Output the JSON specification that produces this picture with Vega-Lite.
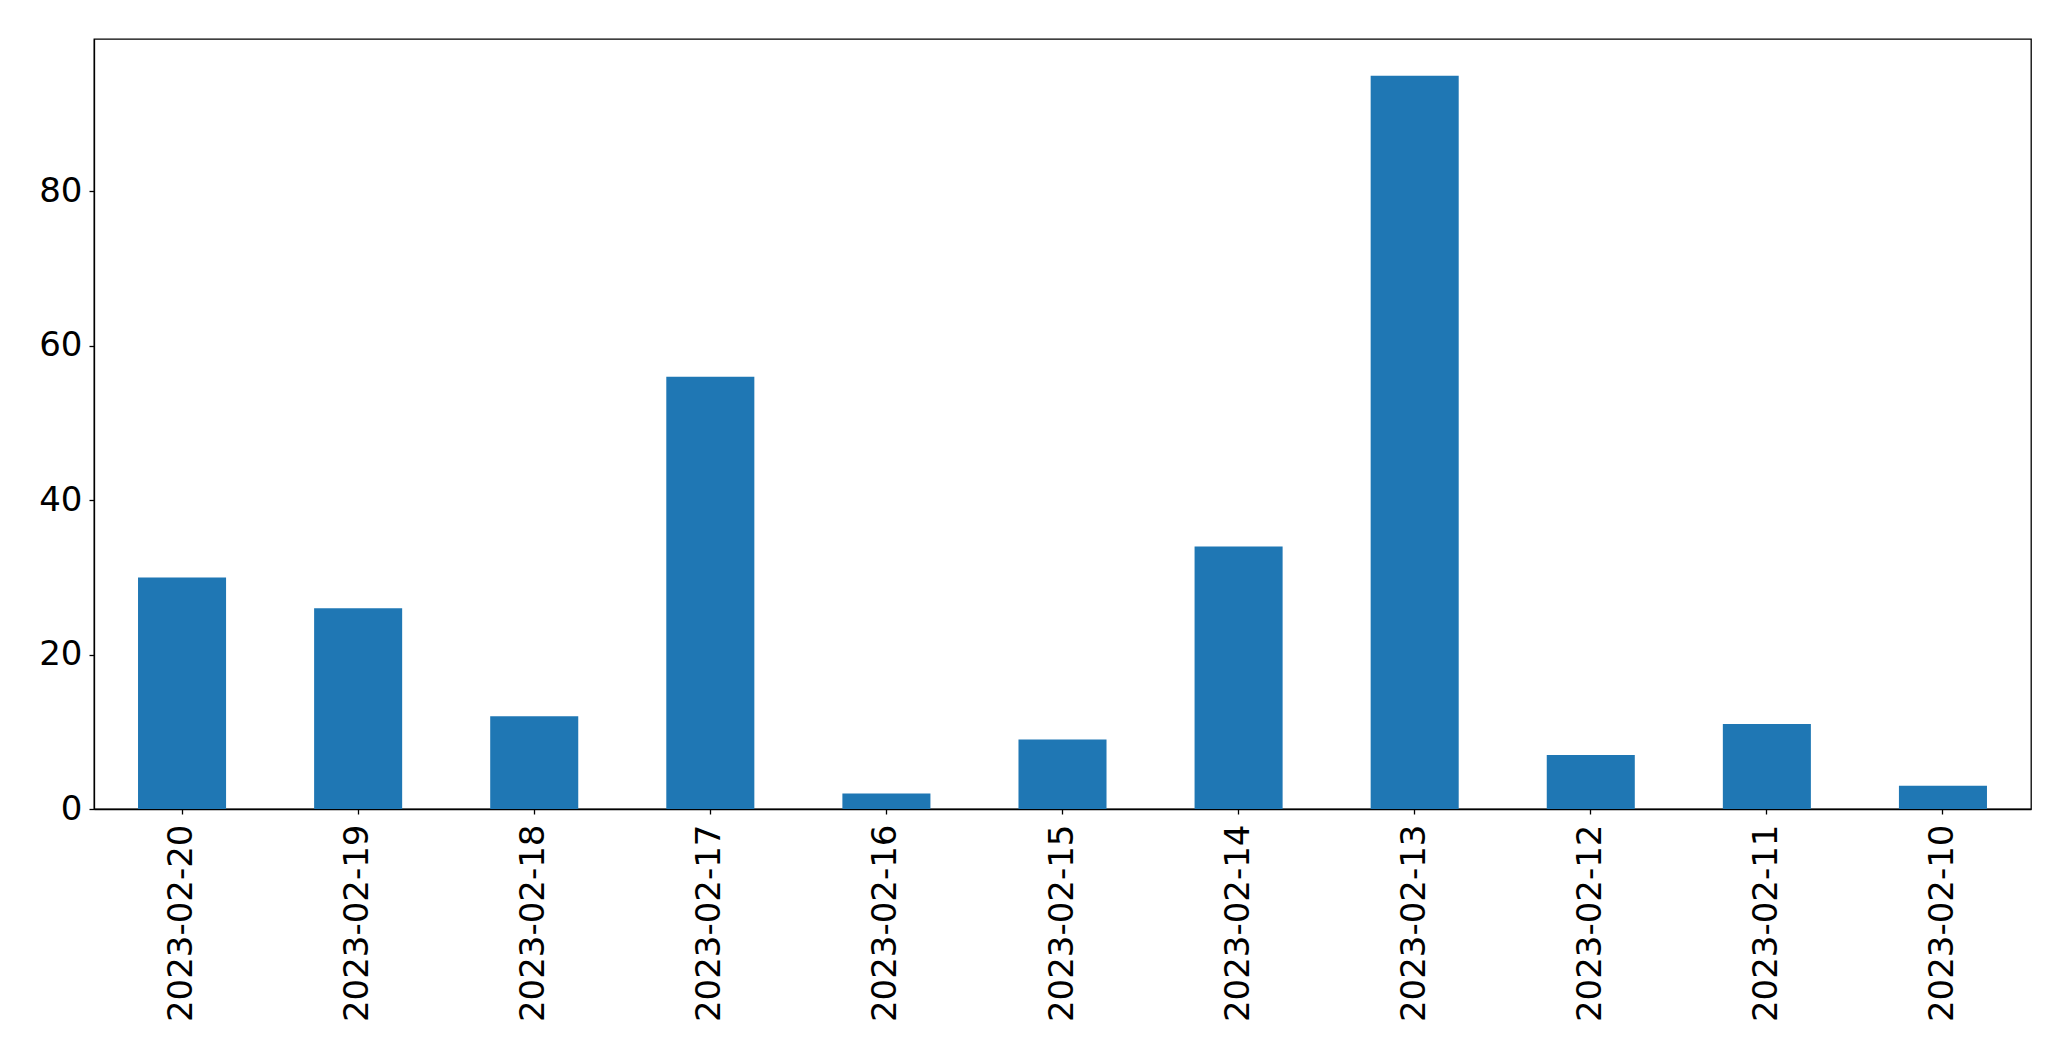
{
  "$schema": "https://vega.github.io/schema/vega-lite/v6.json",
  "autosize": "none",
  "width": 1937,
  "height": 770,
  "padding": {"left": 94, "top": 39, "right": 40, "bottom": 252},
  "background": "white",
  "config": {
    "view": {"stroke": "black", "strokeWidth": 1.3},
    "font": "DejaVu Sans"
  },
  "data": {
    "values": [
      {"date": "2023-02-20", "count": 30},
      {"date": "2023-02-19", "count": 26},
      {"date": "2023-02-18", "count": 12},
      {"date": "2023-02-17", "count": 56},
      {"date": "2023-02-16", "count": 2},
      {"date": "2023-02-15", "count": 9},
      {"date": "2023-02-14", "count": 34},
      {"date": "2023-02-13", "count": 95},
      {"date": "2023-02-12", "count": 7},
      {"date": "2023-02-11", "count": 11},
      {"date": "2023-02-10", "count": 3}
    ]
  },
  "mark": {"type": "bar", "color": "#1f77b4"},
  "encoding": {
    "x": {
      "field": "date",
      "type": "nominal",
      "sort": null,
      "scale": {"paddingInner": 0.5, "paddingOuter": 0.25},
      "axis": {
        "title": null,
        "labelAngle": -90,
        "labelFontSize": 34,
        "labelLimit": 0,
        "labelColor": "black",
        "labelPadding": 10,
        "tickSize": 5,
        "tickColor": "black",
        "tickWidth": 1.3,
        "domainColor": "black",
        "domainWidth": 1.3,
        "grid": false
      }
    },
    "y": {
      "field": "count",
      "type": "quantitative",
      "scale": {"domain": [0, 99.75], "nice": false, "zero": true},
      "axis": {
        "title": null,
        "values": [0, 20, 40, 60, 80],
        "labelFontSize": 34,
        "labelColor": "black",
        "labelPadding": 7,
        "tickSize": 5,
        "tickColor": "black",
        "tickWidth": 1.3,
        "domainColor": "black",
        "domainWidth": 1.3,
        "grid": false
      }
    }
  }
}
